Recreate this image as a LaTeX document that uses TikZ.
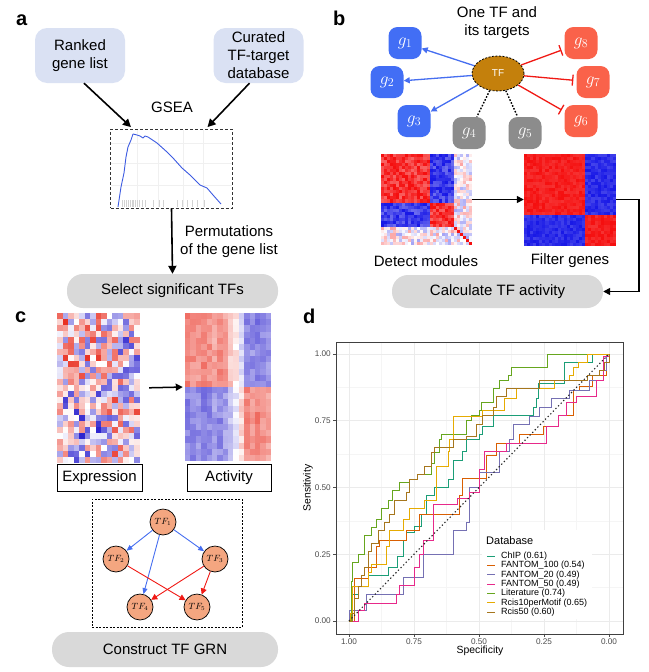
\documentclass[tikz,border=0pt]{standalone}
\usepackage[no-math]{fontspec}
\setmainfont{Liberation Sans}
\usetikzlibrary{arrows.meta,shapes.geometric,calc}
\definecolor{boxblue}{RGB}{218,225,243}
\definecolor{pillgray}{RGB}{217,217,217}
\definecolor{gblue}{RGB}{66,110,245}
\definecolor{gred}{RGB}{250,98,74}
\definecolor{ggray}{RGB}{140,140,140}
\definecolor{tfgold}{RGB}{196,128,12}
\definecolor{ablue}{RGB}{70,110,240}
\definecolor{ared}{RGB}{240,25,20}
\definecolor{tfnode}{RGB}{244,166,128}
\definecolor{cR}{RGB}{245,15,15}
\definecolor{cB}{RGB}{25,25,230}
\definecolor{hR}{RGB}{232,40,25}
\definecolor{hB}{RGB}{40,30,205}
\definecolor{gsline}{RGB}{60,90,225}
\definecolor{dchip}{HTML}{1B9E77}
\definecolor{dfan100}{HTML}{D95F02}
\definecolor{dfan20}{HTML}{7570B3}
\definecolor{dfan50}{HTML}{E7298A}
\definecolor{dlit}{HTML}{66A61E}
\definecolor{drcm}{HTML}{E6AB02}
\definecolor{drc50}{HTML}{A6761D}
\definecolor{gridmaj}{RGB}{235,235,235}
\definecolor{gridmin}{RGB}{245,245,245}
\definecolor{ticktxt}{RGB}{77,77,77}

\newcommand\hcell[7]{%
  \pgfmathtruncatemacro\hcv{max(min(#5,100),-100)}%
  \ifnum\hcv<0
    \pgfmathtruncatemacro\hcv{-\hcv}%
    \fill[#7!\hcv!white] (#1,#2) rectangle ++(#3+0.3,#4+0.3);%
  \else
    \fill[#6!\hcv!white] (#1,#2) rectangle ++(#3+0.3,#4+0.3);%
  \fi}

\begin{document}
\begin{tikzpicture}[x=1pt,y=-1pt,font=\fontsize{15}{18}\selectfont,
  lbl/.style={font=\fontsize{20}{22}\selectfont\bfseries, anchor=base west, inner sep=0},
  srcbox/.style={rounded corners=12pt, fill=boxblue, minimum width=90pt, minimum height=55pt, align=center, inner sep=2pt},
  pillbox/.style={rounded corners=16pt, fill=pillgray, minimum height=33pt, inner sep=0},
  bigarrow/.style={line width=1.6pt, -{Triangle[length=8pt,width=8pt]}},
  gnode/.style={rounded corners=9pt, minimum width=33pt, minimum height=32pt, inner sep=0, text=white, font=\fontsize{17}{18}\selectfont},
  barrow/.style={draw=ablue, line width=1.3pt, -{Triangle[length=6pt,width=6pt]}},
  rinh/.style={draw=ared, line width=1.3pt, -{Bar[width=11pt]}, shorten >=3pt},
  dotl/.style={line width=1.4pt, dash pattern=on 1.6pt off 1.6pt},
  tfc/.style={circle, draw=black, line width=0.7pt, fill=tfnode, minimum size=26pt, inner sep=0, font=\fontsize{9}{10}\selectfont},
  cblue/.style={draw=ablue, line width=0.9pt, -{Triangle[length=6pt,width=5pt]}},
  cred/.style={draw=ared, line width=0.9pt, -{Triangle[length=6pt,width=6pt]}},
  roc/.style={line width=0.9pt, line join=miter},
  legt/.style={anchor=west, inner sep=0, font=\fontsize{9}{10}\selectfont},
  tickl/.style={inner sep=0, text=ticktxt, font=\fontsize{8.2}{9}\selectfont}
]
\useasboundingbox (0,0) rectangle (648,672);

%================ panel a
\node[lbl] (la) at (16,25) {a};
\node[srcbox] (rank) at (80,55.5) {Ranked\\gene list};
\node[srcbox] (cur) at (258.5,55.5) {Curated\\TF-target\\database};
\node (gsea) at (172,107) {GSEA};
% GSEA mini plot
\foreach \gx in {137,158,183,203} \draw[gray!12, line width=0.5pt] (\gx,130) -- (\gx,207);
\foreach \gy in {143,163,185} \draw[gray!12, line width=0.5pt] (111,\gy) -- (232,\gy);
\foreach \rx in {121.7,124,126,128.3,130,131.7,133.3,135,136.7,139.3,141.7,145,153.3,159.3,162.7,176.7,181.7,186.7,191.7,196.7,204}
  \draw[gray!35, line width=0.4pt] (\rx,200) -- (\rx,207);
\draw[gsline, line width=0.9pt, line join=round] (118,207) -- (121,187) -- (124,173) -- (126,157) -- (128,147) -- (131,140) -- (133,134) -- (137,135) -- (140,136) -- (143,138) -- (145,136) -- (148,137) -- (157,143) -- (167,152) -- (173,158) -- (182,168) -- (190,175) -- (200,185) -- (207,188) -- (213,195) -- (221,204);
\node[draw=black!80, dash pattern=on 3pt off 2pt, line width=0.8pt, minimum width=121.6pt, minimum height=79pt, inner sep=0] (gbox) at (171.5,168.5) {};
\draw[bigarrow] ([xshift=4pt]rank.south) -- ([xshift=-40.5pt,yshift=1.5pt]gbox.north);
\draw[bigarrow] ([xshift=-9pt]cur.south) -- ([xshift=36pt,yshift=1.5pt]gbox.north);
\node[pillbox, minimum width=211pt, minimum height=34pt] (sel) at (172.5,291) {Select significant TFs};
\draw[bigarrow] (gbox.south) -- (sel.north);
\node[align=center] (perm) at (229,242) {Permutations\\of the gene list};

%================ panel b
\node[lbl] (lb) at (333,25) {b};
\node[align=center] (one) at (497,23) {One TF and\\its targets};
\node[gnode, fill=gblue] (g1) at (405,43) {$g_1$};
\node[gnode, fill=gblue] (g2) at (387,82) {$g_2$};
\node[gnode, fill=gblue] (g3) at (414,121) {$g_3$};
\node[gnode, fill=ggray] (g4) at (469,133) {$g_4$};
\node[gnode, fill=ggray] (g5) at (525,133) {$g_5$};
\node[gnode, fill=gred] (g8) at (581,43) {$g_8$};
\node[gnode, fill=gred] (g7) at (593,82) {$g_7$};
\node[gnode, fill=gred] (g6) at (581,121) {$g_6$};
\node[ellipse, fill=tfgold, draw=black, dash pattern=on 2pt off 1.5pt, line width=0.8pt, minimum width=52pt, minimum height=35pt, inner sep=0, text=white, font=\fontsize{10}{12}\selectfont] (tf) at (498,73.5) {TF};
\draw[barrow] (tf) -- (g1);
\draw[barrow] (tf) -- (g2);
\draw[barrow] (tf) -- (g3);
\draw[rinh] (tf) -- (g8);
\draw[rinh] (tf) -- (g7);
\draw[rinh] (tf) -- (g6);
\draw[dotl] (tf) -- (g4);
\draw[dotl] (tf) -- (g5);

% Detect modules heatmap
\pgfmathsetseed{5}
\foreach \i in {0,...,29}{
  \foreach \j in {0,...,29}{
    \pgfmathtruncatemacro\gi{\i<16 ? 0 : (\i<24 ? 1 : 2)}
    \pgfmathtruncatemacro\gj{\j<16 ? 0 : (\j<24 ? 1 : 2)}
    \pgfmathtruncatemacro\v{(\gi==2 || \gj==2) ? 40*rand : ((\gi==\gj) ? 84+20*rand : -84-20*rand)}
    \ifnum\i=\j \def\v{100}\fi
    \hcell{381+\i*3.033}{154+\j*3.033}{3.033}{3.033}{\v}{cR}{cB}
  }
}
\node[minimum width=91pt, minimum height=91pt, inner sep=0] (det) at (426.5,199.5) {};
% Filter genes heatmap
\foreach \i in {0,...,29}{
  \foreach \j in {0,...,29}{
    \pgfmathtruncatemacro\gi{\i<20 ? 0 : 1}
    \pgfmathtruncatemacro\gj{\j<20 ? 0 : 1}
    \pgfmathtruncatemacro\v{(\gi==\gj) ? 94+8*rand : -92-10*rand}
    \hcell{524+\i*3.067}{154+\j*3.067}{3.067}{3.067}{\v}{cR}{cB}
  }
}
\node[minimum width=92pt, minimum height=91pt, inner sep=0] (filt) at (570,199.5) {};
\draw[line width=1.5pt, -{Triangle[length=7pt,width=7pt]}] (det.east) -- (filt.west);
\node (detl) at (426,261) {Detect modules};
\node (filtl) at (570,261) {Filter genes};
\node[pillbox, minimum width=211pt, minimum height=33pt] (calc) at (497.5,291.5) {Calculate TF activity};
\draw[line width=1.5pt, -{Triangle[length=7pt,width=7pt]}] (filt.east) -- ++(23,0) |- (calc.east);

%================ panel c
\node[lbl] (lc) at (15,322) {c};
\pgfmathsetseed{11}
\foreach \i in {0,...,14}{
  \foreach \j in {0,...,24}{
    \pgfmathtruncatemacro\v{80*rand + (\j<12 ? (\i<8 ? 18 : -8) : (\i<8 ? -18 : 8))}
    \hcell{57+\i*5.533}{313+\j*6}{5.533}{6}{\v}{hR}{hB}
  }
}
\node[minimum width=83pt, minimum height=150pt, inner sep=0] (exh) at (98.5,388) {};
\foreach \i/\cf in {0/0.9,1/0.85,2/0.8,3/0.9,4/0.85,5/0.7,6/0.85,7/0.7,8/0.4,9/0.15,10/-0.3,11/-0.85,12/-0.8,13/-0.95,14/-0.85,15/-0.75}{
  \foreach \j in {0,...,23}{
    \pgfmathtruncatemacro\v{(\j<12 ? 1 : -1)*62*(\cf) + 12*rand}
    \hcell{185+\i*5.375}{313+\j*6.167}{5.375}{6.167}{\v}{hR}{hB}
  }
}
\node[minimum width=86pt, minimum height=148pt, inner sep=0] (ach) at (228,387) {};
\draw[line width=1.5pt, -{Triangle[length=7pt,width=7pt]}, shorten <=9pt, shorten >=2pt] (exh.east) -- (ach.west);
\node[draw, line width=0.9pt, minimum width=85pt, minimum height=27pt, inner sep=0] (expl) at (99.5,477.5) {Expression};
\node[draw, line width=0.9pt, minimum width=84pt, minimum height=27pt, inner sep=0] (actl) at (229,477.5) {Activity};
\node[draw, dash pattern=on 2pt off 1.5pt, line width=0.8pt, minimum width=150pt, minimum height=128pt, inner sep=0] (grnbox) at (167,563) {};
\node[tfc] (t1) at (163,522) {$TF_1$};
\node[tfc] (t2) at (116,559) {$TF_2$};
\node[tfc] (t3) at (215,559) {$TF_3$};
\node[tfc] (t4) at (140,607) {$TF_4$};
\node[tfc] (t5) at (197,607) {$TF_5$};
\draw[cblue] (t1) -- (t2);
\draw[cblue] (t1) -- (t3);
\draw[cblue] (t1) -- (t4);
\draw[cred] (t2) -- (t5);
\draw[cred] (t3) -- (t4);
\draw[cred] (t3) -- (t5);
\node[pillbox, minimum width=226pt, minimum height=35pt, rounded corners=17pt] (grn) at (165,649.5) {Construct TF GRN};

%================ panel d
\node[lbl] (ld) at (303,323) {d};
% grid
\foreach \gx in {381.5,446.5,511.5,576.5} \draw[gridmin, line width=0.5pt] (\gx,342) -- (\gx,634);
\foreach \gy in {587.6,520.9,454.1,387.4} \draw[gridmin, line width=0.5pt] (336,\gy) -- (623,\gy);
\foreach \gx in {349,414,479,544,609} \draw[gridmaj, line width=1pt] (\gx,342) -- (\gx,634);
\foreach \gy in {621,554.25,487.5,420.75,354} \draw[gridmaj, line width=1pt] (336,\gy) -- (623,\gy);
% ticks and labels
\foreach \gy/\t in {621/0.00,554.25/0.25,487.5/0.50,420.75/0.75,354/1.00}{
  \draw[ticktxt, line width=0.6pt] (333,\gy) -- (336,\gy);
  \node[tickl, anchor=east] at (331,\gy) {\t};
}
\foreach \gx/\t in {349/1.00,414/0.75,479/0.50,544/0.25,609/0.00}{
  \draw[ticktxt, line width=0.6pt] (\gx,634) -- (\gx,637);
  \node[tickl, anchor=north] at (\gx,639) {\t};
}
\node[rotate=90, font=\fontsize{10.4}{12}\selectfont] (ylab) at (308,488) {Sensitivity};
\node[font=\fontsize{10.4}{12}\selectfont] (xlab) at (480,651) {Specificity};

\begin{scope}[xshift=349pt, yshift=-621pt, x=260pt, y=267pt]
\draw[roc, dchip] (0,0) -| (0.002,0.03) -| (0.015,0.10) -| (0.035,0.13) -| (0.073,0.17) -| (0.15,0.20) -| (0.188,0.24) -| (0.208,0.30) -| (0.22,0.33) -| (0.253,0.355) -| (0.278,0.40) -| (0.297,0.47) -| (0.33,0.50) -| (0.381,0.53) -| (0.40,0.60) -| (0.438,0.635) -| (0.451,0.68) -| (0.503,0.70) -| (0.515,0.73) -| (0.554,0.77) -| (0.708,0.80) -| (0.72,0.835) -| (0.727,0.89) -| (0.83,0.97) -| (0.938,1.0) -| (1,1);
\draw[roc, dfan100] (0,0) -| (0.022,0.16) -| (0.073,0.20) -| (0.105,0.28) -| (0.118,0.30) -| (0.22,0.34) -| (0.272,0.40) -| (0.426,0.47) -| (0.438,0.535) -| (0.528,0.62) -| (0.567,0.665) -| (0.656,0.70) -| (0.746,0.73) -| (0.804,0.77) -| (0.862,0.865) -| (0.887,0.88) -| (0.938,0.92) -| (0.99,1.0) -| (1,1);
\draw[roc, dfan20] (0,0) -| (0.002,0.04) -| (0.067,0.10) -| (0.208,0.165) -| (0.285,0.25) -| (0.40,0.34) -| (0.451,0.37) -| (0.464,0.50) -| (0.503,0.555) -| (0.579,0.635) -| (0.618,0.68) -| (0.631,0.735) -| (0.695,0.765) -| (0.733,0.80) -| (0.778,0.835) -| (0.849,0.865) -| (0.926,0.90) -| (0.977,0.94) -| (0.99,1.0) -| (1,1);
\draw[roc, dfan50] (0,0) -| (0.035,0.04) -| (0.06,0.066) -| (0.182,0.10) -| (0.195,0.135) -| (0.253,0.20) -| (0.272,0.25) -| (0.285,0.30) -| (0.323,0.435) -| (0.419,0.46) -| (0.464,0.48) -| (0.503,0.566) -| (0.522,0.635) -| (0.605,0.665) -| (0.759,0.73) -| (0.804,0.77) -| (0.836,0.82) -| (0.874,0.84) -| (0.951,0.90) -| (0.977,0.99) -| (1,1);
\draw[roc, dlit] (0,0) -| (0.008,0.15) -| (0.015,0.22) -| (0.035,0.25) -| (0.06,0.32) -| (0.086,0.35) -| (0.105,0.38) -| (0.124,0.42) -| (0.15,0.45) -| (0.169,0.49) -| (0.195,0.52) -| (0.233,0.53) -| (0.265,0.55) -| (0.317,0.59) -| (0.33,0.63) -| (0.349,0.68) -| (0.355,0.70) -| (0.451,0.75) -| (0.47,0.77) -| (0.503,0.79) -| (0.509,0.82) -| (0.554,0.87) -| (0.579,0.90) -| (0.612,0.92) -| (0.624,0.95) -| (0.765,1.0) -| (1,1);
\draw[roc, drcm] (0,0) -| (0.005,0.03) -| (0.015,0.13) -| (0.073,0.18) -| (0.086,0.21) -| (0.144,0.28) -| (0.156,0.34) -| (0.208,0.38) -| (0.233,0.42) -| (0.291,0.45) -| (0.336,0.58) -| (0.381,0.635) -| (0.387,0.68) -| (0.40,0.766) -| (0.515,0.79) -| (0.599,0.835) -| (0.644,0.87) -| (0.791,0.90) -| (0.849,0.92) -| (0.862,0.95) -| (0.881,0.97) -| (0.919,1.0) -| (1,1);
\draw[roc, drc50] (0,0) -| (0.012,0.03) -| (0.022,0.085) -| (0.035,0.13) -| (0.047,0.17) -| (0.06,0.20) -| (0.073,0.26) -| (0.086,0.29) -| (0.112,0.34) -| (0.137,0.37) -| (0.156,0.40) -| (0.176,0.45) -| (0.22,0.48) -| (0.233,0.53) -| (0.265,0.55) -| (0.291,0.58) -| (0.317,0.63) -| (0.33,0.65) -| (0.40,0.68) -| (0.451,0.69) -| (0.49,0.735) -| (0.515,0.77) -| (0.554,0.80) -| (0.567,0.84) -| (0.605,0.87) -| (0.733,0.90) -| (0.919,0.92) -| (0.964,0.94) -| (0.983,0.97) -| (1,1);
\draw[black!85, line width=1.1pt, dash pattern=on 1.3pt off 2.4pt] (0,0) -- (1,1);
\end{scope}
\draw[black!75, line width=0.9pt] (336,342) rectangle (623,634);

% legend
\fill[white] (482,530) rectangle (592,619);
\node[anchor=west, inner sep=0, font=\fontsize{11}{12}\selectfont] (legtitle) at (486,541) {Database};
\foreach \yy/\cc/\tt in {556/dchip/{ChIP (0.61)}, 565.3/dfan100/{FANTOM\_100 (0.54)}, 574.7/dfan20/{FANTOM\_20 (0.49)}, 584/dfan50/{FANTOM\_50 (0.49)}, 593.3/dlit/{Literature (0.74)}, 602.7/drcm/{Rcis10perMotif (0.65)}, 612/drc50/{Rcis50 (0.60)}}{
  \draw[\cc, line width=1pt] (487,\yy) -- (495,\yy);
  \node[legt] at (501,\yy) {\tt};
}
\end{tikzpicture}
\end{document}
